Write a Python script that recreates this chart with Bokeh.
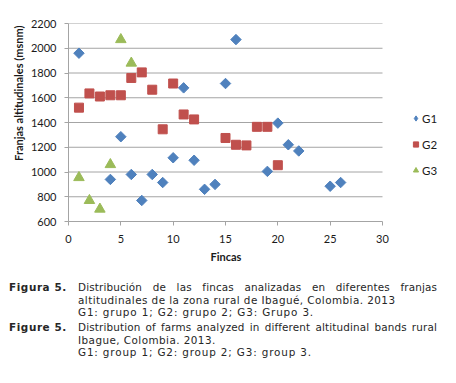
import math
from bokeh.plotting import figure
from bokeh.models import Range1d, FixedTicker, Legend, LegendItem, Div, Title
from bokeh.layouts import column
from bokeh.embed import file_html
from bokeh.resources import INLINE

# ---- data ----
g1_x = [1, 4, 5, 6, 7, 8, 9, 10, 11, 12, 13, 14, 15, 16, 19, 20, 21, 22, 25, 26]
g1_y = [1960, 940, 1285, 980, 770, 980, 915, 1115, 1680, 1095, 860, 900, 1715, 2070, 1005, 1395, 1220, 1170, 885, 915]
g2_x = [1, 2, 3, 4, 5, 6, 7, 8, 9, 10, 11, 12, 15, 16, 17, 18, 19, 20]
g2_y = [1520, 1635, 1610, 1620, 1620, 1760, 1805, 1665, 1345, 1715, 1465, 1425, 1275, 1220, 1215, 1365, 1365, 1055]
g3_x = [1, 2, 3, 4, 5, 6]
g3_y = [955, 770, 700, 1060, 2070, 1880]
series_names = ["G1", "G2", "G3"]
x_ticks = [0, 5, 10, 15, 20, 25, 30]
y_ticks = [600, 800, 1000, 1200, 1400, 1600, 1800, 2000, 2200]
x_title = "Fincas"
y_title = "Franjas altitudinales (msnm)"

BLUE, RED, GREEN = "#4f81bd", "#c0504d", "#9bbb59"
GRID = "#a4a4a4"
TICKFONT = "Lato"

FIG_W, FIG_H = 450, 270
BL, BR, BT, BB = 68, 4, 23, 49
frame_w = FIG_W - BL - BR
px_per_unit = 314 / (x_ticks[-1] - x_ticks[0])
x_end = x_ticks[0] + frame_w / px_per_unit

p = figure(width=FIG_W, height=FIG_H, output_backend="svg", toolbar_location=None,
           x_range=Range1d(x_ticks[0], x_end), y_range=Range1d(y_ticks[0], y_ticks[-1]),
           min_border_left=BL, min_border_right=BR, min_border_top=BT, min_border_bottom=BB)
p.outline_line_color = None
p.background_fill_color = "white"
p.border_fill_color = "white"
p.xgrid.grid_line_color = None
p.ygrid.grid_line_color = None

# horizontal gridlines limited to the x-axis extent
p.segment(x0=[x_ticks[0]] * (len(y_ticks) - 1), x1=[x_ticks[-1]] * (len(y_ticks) - 1),
          y0=y_ticks[1:], y1=y_ticks[1:], line_color=GRID, line_width=1)

r1 = p.scatter(g1_x, g1_y, marker="square", angle=math.pi / 4, size=7.4,
               fill_color=BLUE, line_color=BLUE)
r2 = p.scatter(g2_x, g2_y, marker="square", size=9, fill_color=RED, line_color=RED)
r3 = p.scatter(g3_x, g3_y, marker="triangle", size=10.5, fill_color=GREEN, line_color=GREEN)
# legend swatch for G1 (diamond shape; the rotated squares above are the visible marks)
r1_key = p.scatter(g1_x, g1_y, marker="diamond", size=10, fill_color=BLUE, line_color=BLUE,
                   visible=False)

p.xaxis.ticker = FixedTicker(ticks=x_ticks)
p.yaxis.ticker = FixedTicker(ticks=y_ticks)
p.xaxis.bounds = (x_ticks[0], x_ticks[-1])

for ax in (p.xaxis[0], p.yaxis[0]):
    ax.axis_line_color = GRID
    ax.major_tick_line_color = GRID
    ax.minor_tick_line_color = None
    ax.major_tick_in = 0
    ax.major_tick_out = 4
    ax.major_label_text_font = TICKFONT
    ax.major_label_text_font_size = "11px"
    ax.major_label_text_color = "#1a1a1a"

p.xaxis.major_label_standoff = 9
p.yaxis.major_label_standoff = 8

yt = Title(text=y_title, align="right", offset=2, text_font=TICKFONT, text_font_size="11px",
           text_font_style="bold", text_color="#1a1a1a", standoff=5)
p.add_layout(yt, "left")
xt = Title(text=x_title, align="left", offset=142, text_font=TICKFONT, text_font_size="11px",
           text_font_style="bold", text_color="#1a1a1a", standoff=4)
p.add_layout(xt, "below")

legend = Legend(items=[LegendItem(label=series_names[0], renderers=[r1_key]),
                       LegendItem(label=series_names[1], renderers=[r2]),
                       LegendItem(label=series_names[2], renderers=[r3])],
                location=(341, 43), orientation="vertical")
legend.background_fill_alpha = 0
legend.border_line_alpha = 0
legend.padding = 0
legend.margin = 0
legend.glyph_width = 13
legend.glyph_height = 16
legend.label_height = 16
legend.spacing = 10
legend.label_standoff = 0
legend.label_text_font = TICKFONT
legend.label_text_font_size = "11.5px"
legend.label_text_color = "#1a1a1a"
p.add_layout(legend, "center")

J = "text-align:justify;text-align-last:justify;white-space:nowrap;letter-spacing:0.15px;"
A = "white-space:nowrap;letter-spacing:0.45px;"
G = "white-space:nowrap;letter-spacing:0.85px;"
B = "font-weight:bold;vertical-align:top;width:69px;letter-spacing:0.6px;"
caption_html = f"""
<table style="border-collapse:collapse;font-family:'DejaVu Sans';font-size:10.4px;line-height:12.5px;color:#262626;margin:6px 0 0 4px;">
<tr><td style="{B}padding:0 0 2.5px 0;">Figura 5.</td>
<td style="width:359px;padding:0 0 2.5px 0;">
<div style="{J}">Distribución de las fincas analizadas en diferentes franjas</div>
<div style="{A}">altitudinales de la zona rural de Ibagué, Colombia. 2013</div>
<div style="{G}">G1: grupo 1; G2: grupo 2; G3: Grupo 3.</div></td></tr>
<tr><td style="{B}padding:0;">Figure 5.</td>
<td style="width:359px;padding:0;">
<div style="{J}">Distribution of farms analyzed in different altitudinal bands rural</div>
<div style="{A}">Ibague, Colombia. 2013.</div>
<div style="{G}">G1: group 1; G2: group 2; G3: group 3.</div></td></tr>
</table>
"""
div = Div(text=caption_html, width=FIG_W, height=100)

layout = column(p, div, spacing=0)
open("out.html", "w").write(file_html(layout, INLINE))
